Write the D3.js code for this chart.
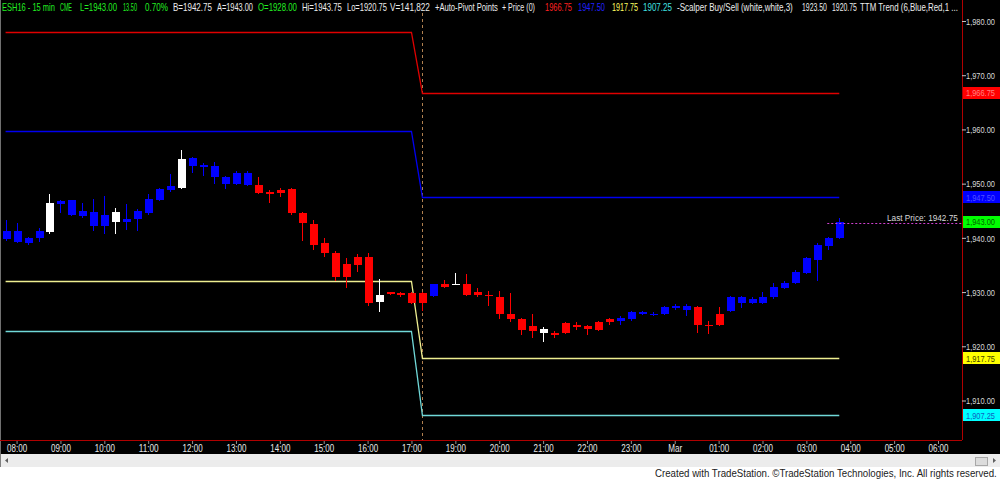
<!DOCTYPE html>
<html><head><meta charset="utf-8">
<script src="https://cdn.jsdelivr.net/npm/d3@7/dist/d3.min.js"></script>
<style>
html,body{margin:0;padding:0;background:#000;overflow:hidden}
svg{display:block;font-family:"Liberation Sans",Arial,sans-serif}
</style></head>
<body><svg id="c" width="1000" height="479"></svg>
<script>
// ---- data ----
const opens  = [1939.75,1939.25,1939.0,1940.0,1941.0,1946.25,1944.25,1944.0,1942.25,1942.25,1943.0,1943.0,1943.5,1944.5,1947.0,1948.75,1949.25,1953.25,1953.0,1951.25,1950.0,1950.0,1949.75,1949.75,1948.5,1948.75,1949.0,1944.5,1942.5,1939.0,1937.25,1935.25,1936.5,1936.5,1928.25,1930.0,1929.75,1929.75,1928.0,1929.25,1931.5,1931.25,1931.5,1930.0,1929.5,1929.0,1926.0,1925.0,1923.75,1922.5,1922.5,1924.25,1924.0,1923.75,1924.5,1925.0,1924.75,1925.0,1926.0,1925.75,1926.0,1927.0,1926.75,1927.25,1924.0,1924.0,1926.5,1928.0,1928.0,1928.0,1929.0,1930.75,1931.75,1933.5,1936.0,1938.5,1940.0];
const highs  = [1943.25,1942.75,1940.25,1941.75,1948.0,1947.0,1947.0,1946.5,1947.25,1947.75,1945.5,1946.25,1945.25,1948.0,1949.25,1951.75,1956.25,1955.0,1953.75,1954.0,1951.5,1952.25,1952.25,1951.25,1948.75,1949.25,1949.25,1944.75,1943.25,1940.0,1937.5,1936.25,1937.0,1937.25,1932.5,1930.0,1930.0,1930.0,1930.0,1931.5,1932.25,1933.5,1933.25,1930.75,1930.25,1930.25,1929.75,1925.25,1926.0,1923.5,1922.75,1924.5,1924.5,1924.0,1924.75,1925.25,1925.5,1926.5,1926.5,1926.25,1927.5,1927.75,1927.75,1927.5,1924.75,1927.25,1929.25,1929.25,1929.0,1930.0,1931.75,1932.0,1934.0,1936.5,1939.0,1940.25,1943.75];
const lows   = [1939.5,1939.0,1938.75,1939.25,1940.75,1944.5,1944.0,1943.75,1941.25,1940.75,1940.75,1941.5,1941.25,1944.25,1946.75,1948.5,1949.0,1952.0,1951.5,1950.0,1949.0,1949.75,1949.5,1948.0,1946.5,1947.5,1944.25,1939.5,1937.75,1936.5,1932.0,1930.75,1933.75,1927.5,1926.25,1929.5,1929.0,1927.75,1926.5,1929.0,1930.75,1931.25,1929.25,1929.0,1927.5,1925.0,1924.5,1922.0,1921.5,1920.75,1921.5,1922.25,1923.0,1922.0,1922.75,1924.0,1924.0,1924.75,1925.75,1925.5,1925.75,1926.75,1925.5,1922.5,1922.25,1923.75,1926.25,1927.0,1927.75,1927.75,1928.75,1930.5,1931.5,1933.25,1932.0,1937.75,1939.75];
const closes = [1941.25,1941.25,1940.0,1941.25,1946.5,1946.75,1947.0,1945.0,1944.75,1944.25,1944.75,1943.5,1945.0,1947.25,1949.0,1949.5,1954.5,1954.75,1953.5,1953.25,1951.25,1952.0,1952.0,1948.25,1948.0,1948.25,1944.5,1942.75,1938.75,1937.25,1932.75,1932.75,1935.0,1928.0,1929.5,1929.75,1929.5,1928.0,1929.75,1931.5,1931.0,1931.5,1929.5,1929.5,1929.25,1926.0,1925.0,1923.0,1922.75,1923.25,1922.0,1922.5,1923.5,1923.25,1923.0,1924.5,1925.25,1926.25,1926.25,1926.0,1927.25,1927.5,1927.5,1924.0,1923.75,1926.0,1929.0,1929.0,1928.75,1929.0,1931.0,1931.75,1933.75,1936.25,1938.75,1940.0,1943.0];
// paint: B = TTM trend blue, R = TTM trend red, W = scalper white
const paint = "BBBBWBBBBBWBBBBBWBBBBBBRRRRRRRRRRRWRRRRBRWRRRRRRRWRRRRRRBBBBBBBRRRBBBBBBBBBBB";
const sessionStartBar = 38;
const pivotNames = ["R1","PP","S1","S2"];
const pivotPrev  = [1978.00, 1959.75, 1932.00, 1922.75];
const pivotCurr  = [1966.75, 1947.50, 1917.75, 1907.25];
const priceTicks = [1910,1920,1930,1940,1950,1960,1970,1980];
const timeLabels = ["08:00","09:00","10:00","11:00","12:00","13:00","14:00","15:00","16:00","17:00","19:00","20:00","21:00","22:00","23:00","Mar","01:00","02:00","03:00","04:00","05:00","06:00"];
const timeBars   = [1,5,9,13,17,21,25,29,33,37,41,45,49,53,57,61,65,69,73,77,81,85];
const lastPrice = 1942.75, lastClose = 1943.00;
const header = [
 ["ESH16 - 15 min","g"],["CME","g"],["L=1943.00","g"],["13.50","g"],["0.70%","g"],
 ["B=1942.75","w"],["A=1943.00","w"],["O=1928.00","g"],["Hi=1943.75","w"],["Lo=1920.75","w"],
 ["V=141,822","w"],["+Auto-Pivot Points","w"],["+ Price (0)","w"],["1966.75","p0"],["1947.50","p1"],
 ["1917.75","p2"],["1907.25","p3"],["-Scalper Buy/Sell (white,white,3)","w"],["1923.50","w"],["1920.75","w"],
 ["TTM Trend (6,Blue,Red,1 ...","w"]];

// ---- layout / style ----
const hdrX = [2,60,80,123,145,173,217,258,302,347,390,435,502,545,578,612,643,677,802,832,860];
const hdrW = [53,12,37,14,23,39,36,39,40,40,40,63,33,27,27,26,29,116,25,25,98];
const paintColor = {B:"#0000ff", R:"#ff0000", W:"#ffffff"};
const pivotLine = ["#e00000","#0000f0","#eeee90","#70d8d8"];
const pivotBox  = ["#ff0000","#0000ff","#ffff00","#00ffff"];
const pivotBoxText = ["#ff8080","#5050ff","#404000","#1060c0"];
const hdrColor = {g:"#22ee22", w:"#ececec", p0:"#ff2020", p1:"#2020ff", p2:"#ffff60", p3:"#40e0e0"};

const svg = d3.select("#c");
const W = 1000, H = 479, axisX = 962, axisY = 440;
svg.append("rect").attr("width",W).attr("height",H).attr("fill","#000");

// squeeze a text horizontally to a target width (the reference uses a narrow face)
function fitText(sel, tx, ty, width){
  sel.each(function(d,i){
    const el = this, nat = el.getComputedTextLength();
    const X = typeof tx==="function" ? tx(d,i) : tx, Y = typeof ty==="function" ? ty(d,i) : ty;
    const w = typeof width==="function" ? width(d,i) : width;
    const s = nat>0 ? w/nat : 1;
    d3.select(el).attr("x",0).attr("y",0).attr("dy",null).attr("transform",`translate(${X},${Y}) scale(${s},1)`);
  });
}

const x = d3.scaleLinear().domain([0,85]).range([5.6,938.0]);
const y = d3.scaleLinear().domain([1910,1980]).range([400.5,21]);

// left border
svg.append("line").attr("x1",0.5).attr("x2",0.5).attr("y1",0).attr("y2",454).attr("stroke","#707070");

// session break
svg.append("line").attr("x1",Math.round(x(sessionStartBar))+0.5).attr("x2",Math.round(x(sessionStartBar))+0.5)
  .attr("y1",13).attr("y2",axisY).attr("stroke","#b08050").attr("stroke-dasharray","3,3");

// pivot lines
const nBars = opens.length;
pivotPrev.forEach((v,k)=>{
  const pts = [[0,v],[sessionStartBar-1,v],[sessionStartBar,pivotCurr[k]],[nBars-1,pivotCurr[k]]];
  svg.append("path").attr("d", d3.line().x(d=>x(d[0])).y(d=>Math.round(y(d[1]))+0.5)(pts))
    .attr("fill","none").attr("stroke",pivotLine[k]).attr("stroke-width",1.3);
});

// candles
const bars = d3.range(nBars).map(i=>({i,o:opens[i],h:highs[i],l:lows[i],c:closes[i],col:paintColor[paint[i]]}));
const g = svg.append("g").attr("shape-rendering","crispEdges");
g.selectAll("line.w").data(bars).join("line")
  .attr("x1",d=>Math.round(x(d.i))+0.5).attr("x2",d=>Math.round(x(d.i))+0.5)
  .attr("y1",d=>y(d.h)).attr("y2",d=>y(d.l)).attr("stroke",d=>d.col);
g.selectAll("rect.b").data(bars).join("rect")
  .attr("x",d=>Math.round(x(d.i))-3.5).attr("width",8)
  .attr("y",d=>y(Math.max(d.o,d.c)))
  .attr("height",d=>Math.max(1.5, y(Math.min(d.o,d.c))-y(Math.max(d.o,d.c))))
  .attr("fill",d=>d.col);

// last price line
svg.append("line").attr("x1",x(nBars-1)-12).attr("x2",axisX).attr("y1",Math.round(y(lastPrice))+0.5).attr("y2",Math.round(y(lastPrice))+0.5)
  .attr("stroke","#d040d0").attr("stroke-dasharray","2,2");
svg.append("text").attr("font-size",9.5).attr("fill","#d8d8d8").text("Last Price:  "+lastPrice.toFixed(2))
  .call(fitText, 887, y(lastPrice)-1.5, 71);

// axes frame
svg.append("line").attr("x1",0).attr("x2",axisX).attr("y1",axisY+0.5).attr("y2",axisY+0.5).attr("stroke","#b00000");
svg.append("line").attr("x1",axisX+0.5).attr("x2",axisX+0.5).attr("y1",0).attr("y2",axisY).attr("stroke","#b00000");

// right price axis
const ya = svg.append("g").attr("transform",`translate(${axisX},0)`)
  .call(d3.axisRight(y).tickValues(priceTicks).tickSize(4).tickFormat(d3.format(",.2f")));
ya.select(".domain").remove();
ya.selectAll("line").attr("stroke","#c0c0c0");
ya.selectAll("text").attr("fill","#d8d8d8").attr("font-size",9.5).attr("font-family","Liberation Sans, Arial")
  .call(fitText, 4, 3.3, 29);

// right price boxes
const fmt = d3.format(",.2f");
const boxes = pivotCurr.map((v,k)=>({v,fill:pivotBox[k],tc:pivotBoxText[k]}));
boxes.push({v:lastClose,fill:"#00ff00",tc:"#006000"});
const bx = svg.append("g");
bx.selectAll("rect").data(boxes).join("rect").attr("x",axisX+1).attr("width",W-axisX-1)
  .attr("y",d=>Math.round(y(d.v))-6).attr("height",12).attr("fill",d=>d.fill);
bx.selectAll("text").data(boxes).join("text")
  .attr("font-size",9.5).attr("fill",d=>d.tc).text(d=>fmt(d.v))
  .call(fitText, axisX+4, d=>y(d.v)+3.5, 29);

// time axis
const xa = svg.append("g").attr("transform",`translate(0,${axisY+1})`)
  .call(d3.axisBottom(x).tickValues(timeBars).tickSize(3).tickFormat((d,i)=>timeLabels[i]));
xa.select(".domain").remove();
xa.selectAll("line").attr("stroke","#909090");
xa.selectAll("text").attr("fill","#e8e8e8").attr("font-size",10).attr("font-family","Liberation Sans, Arial")
  .attr("text-anchor","middle")
  .call(fitText, 0, 10.5, d=>timeLabels[timeBars.indexOf(d)]==="Mar" ? 14 : 20);

// header
svg.append("g").selectAll("text").data(header).join("text")
  .attr("font-size",10.5).attr("fill",d=>hdrColor[d[1]]).text(d=>d[0])
  .call(fitText, (d,i)=>hdrX[i], 11, (d,i)=>hdrW[i]);

// scrollbar & footer
svg.append("rect").attr("x",0).attr("y",454).attr("width",W).attr("height",13).attr("fill","#ececec");
svg.append("rect").attr("x",0).attr("y",467).attr("width",W).attr("height",12).attr("fill","#ffffff");
svg.append("line").attr("x1",0.5).attr("x2",0.5).attr("y1",454).attr("y2",467).attr("stroke","#808080");
svg.append("path").attr("d","M5,460.5 L8,458 L8,463 Z").attr("fill","#606060");
svg.append("rect").attr("x",975.5).attr("y",457.5).attr("width",12).attr("height",8).attr("fill","#dcdcdc").attr("stroke","#a8a8a8");
svg.append("path").attr("d","M993,458 L996,460.5 L993,463 Z").attr("fill","#606060");
svg.append("text").attr("font-size",11.5).attr("fill","#222")
  .text("Created with TradeStation. \u00A9TradeStation Technologies, Inc. All rights reserved.")
  .call(fitText, 655, 476.5, 342);
</script></body></html>
